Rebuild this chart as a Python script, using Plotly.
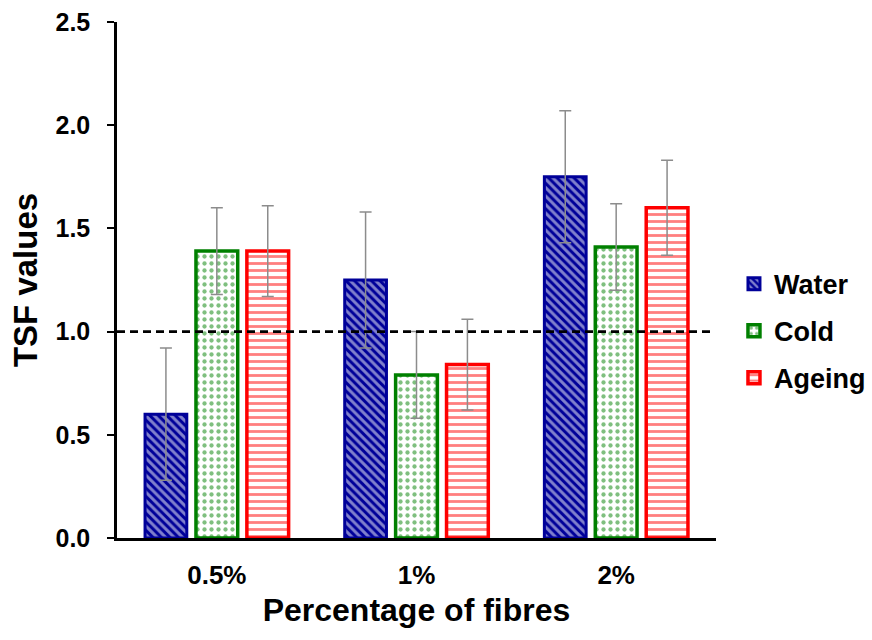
import plotly.graph_objects as go

categories = ["0.5%", "1%", "2%"]
series_names = ["Water", "Cold", "Ageing"]
water = [0.60, 1.25, 1.75]
water_err = [0.32, 0.33, 0.32]
cold = [1.39, 0.79, 1.41]
cold_err = [0.21, 0.21, 0.21]
ageing = [1.39, 0.84, 1.60]
ageing_err = [0.22, 0.22, 0.23]
y_ticks = [0.0, 0.5, 1.0, 1.5, 2.0, 2.5]

FONT = "Liberation Sans, Arial, sans-serif"
err_style = dict(type="data", thickness=1.5, width=6, color="#8c8c8c")

fig = go.Figure()
fig.add_trace(go.Bar(
    name="Water", x=categories, y=water, legendgroup="w",
    error_y=dict(array=water_err, **err_style),
    marker=dict(color="#000099", line=dict(color="#000099", width=3),
                pattern=dict(shape="\\", fgcolor="white", bgcolor="#000099", size=6, solidity=0.5)),
))
fig.add_trace(go.Bar(
    name="Cold", x=categories, y=cold, legendgroup="c",
    error_y=dict(array=cold_err, **err_style),
    marker=dict(color="white", line=dict(color="#008000", width=3.5),
                pattern=dict(shape=".", fgcolor="#008000", bgcolor="white", size=7, solidity=0.3)),
))
fig.add_trace(go.Bar(
    name="Ageing", x=categories, y=ageing, legendgroup="a",
    error_y=dict(array=ageing_err, **err_style),
    marker=dict(color="white", line=dict(color="#ff0000", width=3.5),
                pattern=dict(shape="-", fgcolor="#ff0000", bgcolor="white", size=7, solidity=0.4)),
))

fig.add_shape(type="line", xref="paper", yref="y", x0=0, x1=0.993, y0=1.0, y1=1.0,
              line=dict(color="black", width=2.8, dash="8px,5px"), layer="above")

fig.update_layout(
    width=872, height=640,
    margin=dict(l=117, r=156, t=22, b=102, autoexpand=False),
    paper_bgcolor="white", plot_bgcolor="white",
    barmode="group", bargap=0.235, bargroupgap=0.18,
    font=dict(family=FONT, color="black"),
    showlegend=True,
    legend=dict(x=1.03, y=0.401, xanchor="left", yanchor="middle",
                font=dict(size=27, family=FONT, weight="bold"),
                itemwidth=30, tracegroupgap=9, bgcolor="rgba(0,0,0,0)"),
    xaxis=dict(
        type="category", range=[-0.5, 2.5],
        showline=True, linecolor="black", linewidth=2.5,
        ticks="", tickfont=dict(size=26, family=FONT, weight="bold"),
        ticklabelstandoff=12,
        title=dict(text="Percentage of fibres", font=dict(size=32, family=FONT, weight="bold"), standoff=10),
        showgrid=False, zeroline=False,
    ),
    yaxis=dict(
        range=[0, 2.5], tickvals=y_ticks, ticktext=[f"{v:.1f}" for v in y_ticks],
        showline=True, linecolor="black", linewidth=2.5,
        ticks="outside", ticklen=7, tickwidth=2, tickcolor="black",
        tickfont=dict(size=25, family=FONT, weight="bold"),
        ticklabelstandoff=12,
        title=dict(text="TSF values", font=dict(size=33, family=FONT, weight="bold"), standoff=8),
        showgrid=False, zeroline=False,
    ),
)

fig.write_html("out.html")
